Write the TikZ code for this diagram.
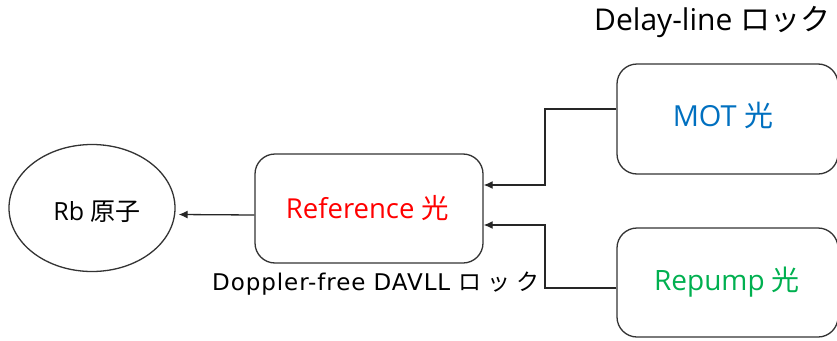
\documentclass[tikz,border=0pt]{standalone}
\usepackage{fontspec}
\setmainfont{Open Sans}
\newfontfamily\jp{Noto Sans CJK JP}
\newfontfamily\jpsp[LetterSpace=25]{Noto Sans CJK JP}
\newfontfamily\dv[LetterSpace=4]{DejaVu Sans}
\usetikzlibrary{shapes.geometric,arrows.meta}
\definecolor{refred}{HTML}{FF0000}
\definecolor{motblue}{HTML}{0070C0}
\definecolor{repgreen}{HTML}{00B050}
\tikzset{
  box/.style={draw=black!80, line width=1.3pt, rounded corners=20pt, inner sep=0pt},
  conn/.style={draw=black!85, line width=1.3pt, -{Latex[length=9pt,width=8pt]}},
}
\begin{document}
\begin{tikzpicture}[x=1pt,y=-1pt]
\useasboundingbox (0,0) rectangle (837,340);
\fill[white] (0,0) rectangle (837,340);
\node[draw=black!80, line width=1.3pt, ellipse, minimum width=166pt, minimum height=127pt, inner sep=0pt] (rb) at (92,208) {};
\node (rbt) at (97,212) {\fontsize{25}{28}\selectfont Rb {\jp 原子}};
\node[box, minimum width=228pt, minimum height=109pt] (ref) at (369,208.5) {};
\node[text=refred] (reft) at (367.5,208) {\fontsize{27.5}{30}\selectfont Reference {\jp 光}};
\node[box, minimum width=221pt, minimum height=110pt] (mot) at (727.5,119) {};
\node[text=motblue] (mott) at (723,115) {\fontsize{29}{32}\selectfont MOT {\jp 光}};
\node[box, minimum width=221pt, minimum height=109pt] (rep) at (727.5,282.5) {};
\node[text=repgreen] (rept) at (727,282) {\fontsize{28}{32}\selectfont Repump {\jp 光}};
\node[anchor=west, inner sep=0pt] (dl) at (594,22) {\fontsize{30}{33}\selectfont Delay-line {\jp ロック}};
\node[anchor=west, inner sep=0pt] (dop) at (212,284) {\fontsize{23}{26}\selectfont\dv Doppler-free DAVLL {\jpsp ロック}};
\coordinate (b1) at (545,185);
\coordinate (b2) at (545,225);
\draw[conn] ([yshift=-6.5pt]ref.west) -- ([yshift=-6.5pt,xshift=3pt]rb.east);
\draw[conn] ([yshift=10pt]mot.west) -| (b1) -- (ref.east |- b1);
\draw[conn] ([yshift=-5.5pt]rep.west) -| (b2) -- (ref.east |- b2);
\end{tikzpicture}
\end{document}
